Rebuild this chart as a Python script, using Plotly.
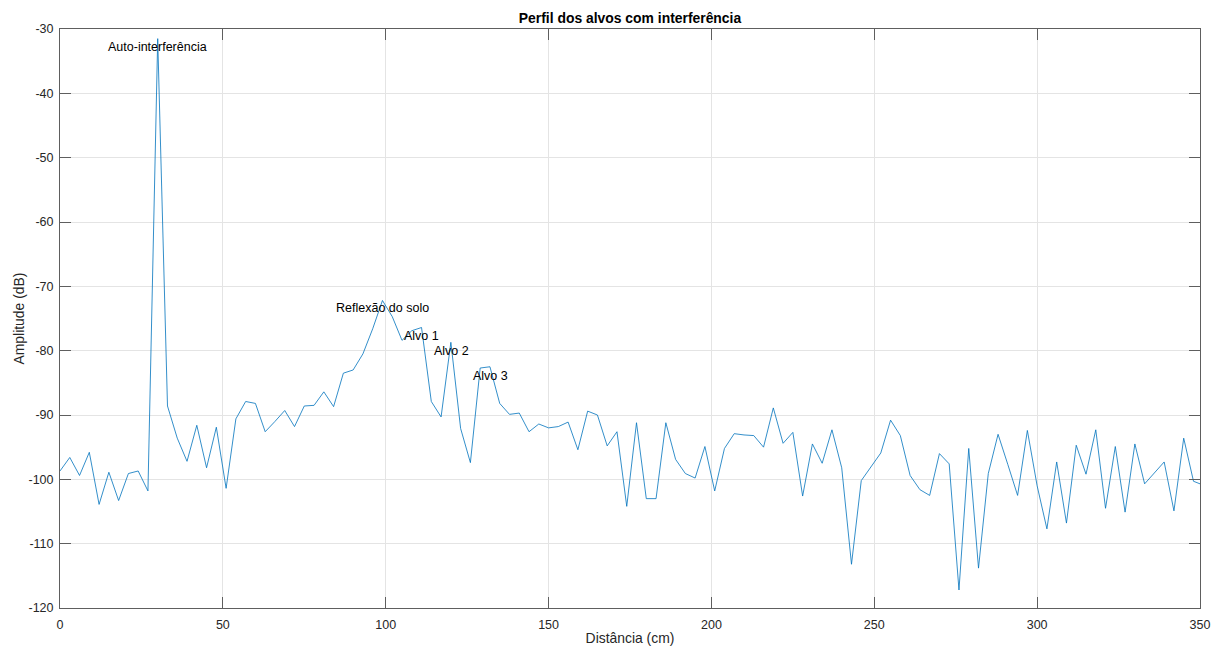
import plotly.graph_objects as go

distancia_cm = [0, 3, 6, 9, 12, 15, 18, 21, 24, 27, 30, 33, 36, 39, 42, 45, 48, 51, 54, 57,
                60, 63, 66, 69, 72, 75, 78, 81, 84, 87, 90, 93, 96, 99, 102, 105, 108, 111, 114, 117,
                120, 123, 126, 129, 132, 135, 138, 141, 144, 147, 150, 153, 156, 159, 162, 165, 168, 171, 174, 177,
                180, 183, 186, 189, 192, 195, 198, 201, 204, 207, 210, 213, 216, 219, 222, 225, 228, 231, 234, 237,
                240, 243, 246, 249, 252, 255, 258, 261, 264, 267, 270, 273, 276, 279, 282, 285, 288, 291, 294, 297,
                300, 303, 306, 309, 312, 315, 318, 321, 324, 327, 330, 333, 336, 339, 342, 345, 348, 351]

amplitude_db = [-98.7, -96.6, -99.4, -95.8, -103.9, -98.9, -103.3, -99.1, -98.7, -101.8,
                -31.5, -88.6, -93.6, -97.2, -91.6, -98.2, -91.9, -101.4, -90.6, -87.9,
                -88.2, -92.6, -91.0, -89.3, -91.8, -88.6, -88.5, -86.4, -88.7, -83.5,
                -83.0, -80.5, -76.6, -72.2, -74.7, -78.4, -76.9, -76.4, -87.9, -90.3,
                -78.7, -92.1, -97.4, -82.7, -82.5, -88.2, -89.9, -89.7, -92.6, -91.4,
                -92.0, -91.8, -91.1, -95.4, -89.4, -90.0, -94.8, -92.6, -104.2, -91.2,
                -103.0, -103.0, -91.2, -96.9, -99.1, -99.8, -94.9, -101.8, -95.2, -92.9,
                -93.1, -93.2, -95.0, -88.9, -94.4, -92.7, -102.6, -94.5, -97.5, -92.3,
                -98.2, -113.2, -100.2, -98.0, -95.9, -90.8, -93.2, -99.4, -101.6, -102.5,
                -96.0, -97.6, -117.2, -95.2, -113.8, -99.1, -93.0, -97.7, -102.5, -92.4,
                -101.0, -107.7, -97.3, -106.8, -94.7, -99.2, -92.3, -104.5, -94.9, -105.1,
                -94.5, -100.7, -99.0, -97.3, -104.9, -93.6, -100.3, -100.9]

rotulos_texto = ["Auto-interferência", "Reflexão do solo", "Alvo 1", "Alvo 2", "Alvo 3"]
rotulos_x = [29.9, 99.0, 111.0, 120.3, 132.1]
rotulos_y = [-32.75, -73.3, -77.7, -80.1, -83.9]

x_ticks = [0, 50, 100, 150, 200, 250, 300, 350]
y_ticks = [-120, -110, -100, -90, -80, -70, -60, -50, -40, -30]

FONT = "Liberation Sans, Arial, Helvetica, sans-serif"
AXIS_COL = "#5e5e5e"
TXT_COL = "#262626"

fig = go.Figure()
fig.add_trace(go.Scatter(x=distancia_cm, y=amplitude_db, mode="lines",
                         line=dict(color="#0072BD", width=0.8), showlegend=False,
                         hoverinfo="x+y"))

for t, xx, yy in zip(rotulos_texto, rotulos_x, rotulos_y):
    fig.add_annotation(x=xx, y=yy, text=t, showarrow=False, xanchor="center", yanchor="middle",
                       font=dict(family=FONT, size=12.5, color="#000000"))

# y-axis title as rotated annotation (pixel-precise placement)
fig.add_annotation(text="Amplitude (dB)", xref="paper", yref="paper", x=(18 - 60) / 1140, y=0.5,
                   textangle=-90, showarrow=False, xanchor="center", yanchor="middle",
                   font=dict(family=FONT, size=13.9, color=TXT_COL))

axis_common = dict(showline=True, linecolor=AXIS_COL, linewidth=1, mirror="ticks",
                   ticks="inside", ticklen=11, tickcolor=AXIS_COL, tickwidth=1,
                   showgrid=True, gridcolor="#e4e4e4", gridwidth=1, zeroline=False,
                   tickfont=dict(family=FONT, size=12.5, color=TXT_COL))

fig.update_xaxes(range=[0, 350], tickvals=x_ticks, ticktext=[str(v) for v in x_ticks],
                 title=dict(text="Distância (cm)", font=dict(family=FONT, size=13.9, color=TXT_COL), standoff=2),
                 ticklabelstandoff=5, **axis_common)
fig.update_yaxes(range=[-120, -30], tickvals=y_ticks, ticktext=[str(v) for v in y_ticks],
                 ticklabelstandoff=3, **axis_common)

fig.update_layout(
    width=1218, height=647,
    margin=dict(l=60, r=18, t=29, b=39, autoexpand=False),
    paper_bgcolor="white", plot_bgcolor="white",
    title=dict(text="<b>Perfil dos alvos com interferência</b>", x=0.5, xref="paper",
               y=1 - 18.3 / 647, yref="container", yanchor="middle", xanchor="center",
               font=dict(family=FONT, size=13.9, color="#000000")),
    font=dict(family=FONT, color=TXT_COL),
)

fig.write_html("out.html", config={"displayModeBar": False},
               post_script="document.body.style.margin='0';document.body.style.overflow='hidden';")
